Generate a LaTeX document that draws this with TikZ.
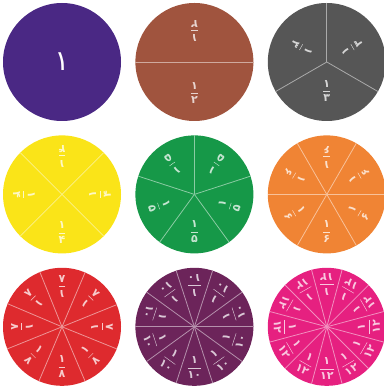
\documentclass[tikz,border=0pt]{standalone}
\usepackage{amsmath}
\usepackage{fontspec}
\newfontfamily\arabicfont[Script=Arabic]{DejaVu Sans}
\usepackage{tikz}
\usetikzlibrary{positioning, calc}

\definecolor{discindigo}{RGB}{74,40,132}
\definecolor{discbrown}{RGB}{160,84,62}
\definecolor{discgray}{RGB}{86,86,86}
\definecolor{discyellow}{RGB}{250,228,24}
\definecolor{discgreen}{RGB}{22,152,72}
\definecolor{discorange}{RGB}{240,132,52}
\definecolor{discred}{RGB}{222,42,46}
\definecolor{discplum}{RGB}{108,36,90}
\definecolor{discpink}{RGB}{230,32,128}

\begin{document}
\begin{tikzpicture}[
    x=1pt, y=1pt,
    node distance=14pt,
    disc/.style={circle, minimum size=118pt, inner sep=0pt},
    divider/.style={line width=0.8pt},
    frac/.style={inner sep=0pt, font=\arabicfont\bfseries\fontsize{11}{11}\selectfont},
    whole/.style={font=\arabicfont\fontsize{28}{28}\selectfont, text=white},
  ]
  \useasboundingbox (0,0) rectangle (383,-387);
  % first row
  \node[disc, fill=discindigo] (d1) at (62,-62) {};
  \node[disc, fill=discbrown, right=of d1] (d2) {};
  \node[disc, fill=discgray, right=of d2] (d3) {};
  % second row
  \node[disc, fill=discyellow, below=of d1] (d4) {};
  \node[disc, fill=discgreen, right=of d4] (d5) {};
  \node[disc, fill=discorange, right=of d5] (d6) {};
  % third row
  \node[disc, fill=discred, below=of d4] (d8) {};
  \node[disc, fill=discplum, right=of d8] (d10) {};
  \node[disc, fill=discpink, right=of d10] (d12) {};
  % the whole
  \node[whole] (one) at (d1.center) {۱};
  % sectors and their labels
  \foreach \nm/\col/\n/\lr/\dn in {d2/discbrown/2/31/۲, d3/discgray/3/29/۳,
      d4/discyellow/4/38/۴, d5/discgreen/5/37/۵, d6/discorange/6/37/۶,
      d8/discred/8/40/۸, d10/discplum/10/41/۱۰, d12/discpink/12/42/۱۲} {
    \foreach \k in {1,...,\n} {
      \pgfmathsetmacro\a{-90+(\k-0.5)*360/\n}
      \pgfmathsetmacro\b{-90+(\k-1)*360/\n}
      \draw[divider, draw=\col!50!white] (\nm.center) -- (\nm.\a);
      \node[frac, text=\col!25!white, rotate=\b+90] (\nm-\k) at ($(\nm.center)+(\b:\lr)$)
        {$\dfrac{\hbox{\arabicfont\bfseries ۱}}{\hbox{\arabicfont\bfseries \dn}}$};
    }
  }
\end{tikzpicture}
\end{document}
